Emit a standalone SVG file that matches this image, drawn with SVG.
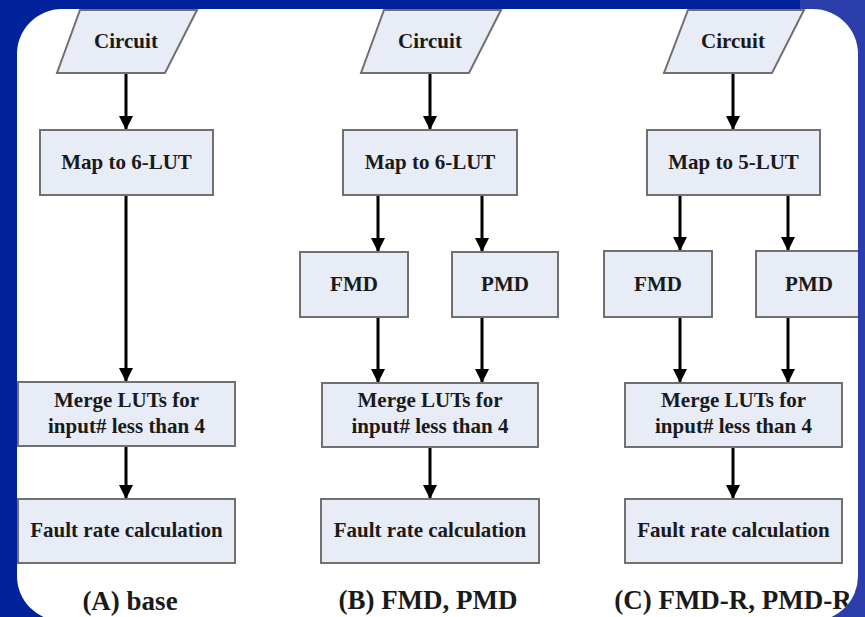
<svg xmlns="http://www.w3.org/2000/svg" width="865" height="617" viewBox="0 0 865 617">
<style>
.box{fill:#e7ecf7;stroke:#707070;stroke-width:2}
.t{font-family:"Liberation Serif","Times New Roman",serif;font-weight:bold;font-size:21px;fill:#1a1a1a;text-anchor:middle}
.cap{font-family:"Liberation Serif","Times New Roman",serif;font-weight:bold;font-size:27px;fill:#1a1a1a;text-anchor:middle}
.c{stroke:#000;stroke-width:3;fill:none;marker-end:url(#ah)}
</style>
<defs>
<marker id="ah" viewBox="0 0 14 14" refX="14" refY="7" markerWidth="14" markerHeight="14" orient="auto" markerUnits="userSpaceOnUse">
<path d="M0,0 L14,7 L0,14 z" fill="#000"/>
</marker>
<clipPath id="panel"><rect x="17" y="9" width="841" height="612" rx="45" ry="45"/></clipPath>
</defs>
<rect x="0" y="0" width="865" height="617" fill="#00229a"/>
<rect x="800" y="0" width="65" height="617" fill="#2a3daa"/>
<rect x="17" y="9" width="841" height="612" rx="45" ry="45" fill="#ffffff"/>
<g clip-path="url(#panel)">
<g id="connectors">
<path class="c" d="M126,73 V130"/>
<path class="c" d="M126,195 V382"/>
<path class="c" d="M126,446 V499"/>
<path class="c" d="M430,73 V130"/>
<path class="c" d="M378,195 V252"/>
<path class="c" d="M482,195 V252"/>
<path class="c" d="M378,317 V383"/>
<path class="c" d="M482,317 V383"/>
<path class="c" d="M430,447 V499"/>
<path class="c" d="M733,73 V130"/>
<path class="c" d="M680,195 V251"/>
<path class="c" d="M788,195 V251"/>
<path class="c" d="M680,317 V383"/>
<path class="c" d="M788,317 V383"/>
<path class="c" d="M733,447 V499"/>
</g>
<g id="a-circuit"><polygon class="box" points="80,10 197,10 165,73 57,73"/><text class="t" x="126" y="48">Circuit</text></g>
<g id="a-map"><rect class="box" x="40" y="130" width="173" height="65"/><text class="t" x="126.5" y="169">Map to 6-LUT</text></g>
<g id="a-merge"><rect class="box" x="18" y="382" width="217" height="64"/><text class="t" x="126.5" y="407">Merge LUTs for</text><text class="t" x="126.5" y="433">input# less than 4</text></g>
<g id="a-fault"><rect class="box" x="18" y="499" width="217" height="64"/><text class="t" x="126.5" y="537">Fault rate calculation</text></g>
<g id="b-circuit"><polygon class="box" points="384,10 501,10 469,73 361,73"/><text class="t" x="430" y="48">Circuit</text></g>
<g id="b-map"><rect class="box" x="343" y="130" width="174" height="65"/><text class="t" x="430" y="169">Map to 6-LUT</text></g>
<g id="b-fmd"><rect class="box" x="300" y="252" width="108" height="65"/><text class="t" x="354" y="291">FMD</text></g>
<g id="b-pmd"><rect class="box" x="452" y="252" width="106" height="65"/><text class="t" x="505" y="291">PMD</text></g>
<g id="b-merge"><rect class="box" x="322" y="383" width="216" height="64"/><text class="t" x="430" y="407">Merge LUTs for</text><text class="t" x="430" y="433">input# less than 4</text></g>
<g id="b-fault"><rect class="box" x="321" y="499" width="218" height="64"/><text class="t" x="430" y="537">Fault rate calculation</text></g>
<g id="c-circuit"><polygon class="box" points="688,10 804,10 772,73 664,73"/><text class="t" x="733" y="48">Circuit</text></g>
<g id="c-map"><rect class="box" x="647" y="130" width="173" height="65"/><text class="t" x="733.5" y="169">Map to 5-LUT</text></g>
<g id="c-fmd"><rect class="box" x="604" y="251" width="108" height="66"/><text class="t" x="658" y="291">FMD</text></g>
<g id="c-pmd"><rect class="box" x="756" y="251" width="106" height="66"/><text class="t" x="809" y="291">PMD</text></g>
<g id="c-merge"><rect class="box" x="625" y="383" width="217" height="64"/><text class="t" x="733.5" y="407">Merge LUTs for</text><text class="t" x="733.5" y="433">input# less than 4</text></g>
<g id="c-fault"><rect class="box" x="625" y="499" width="217" height="64"/><text class="t" x="733.5" y="537">Fault rate calculation</text></g>
<g id="captions">
<text class="cap" x="130" y="610">(A) base</text>
<text class="cap" x="428" y="609">(B) FMD, PMD</text>
<text class="cap" x="733" y="609">(C) FMD-R, PMD-R</text>
</g>
</g>
</svg>
